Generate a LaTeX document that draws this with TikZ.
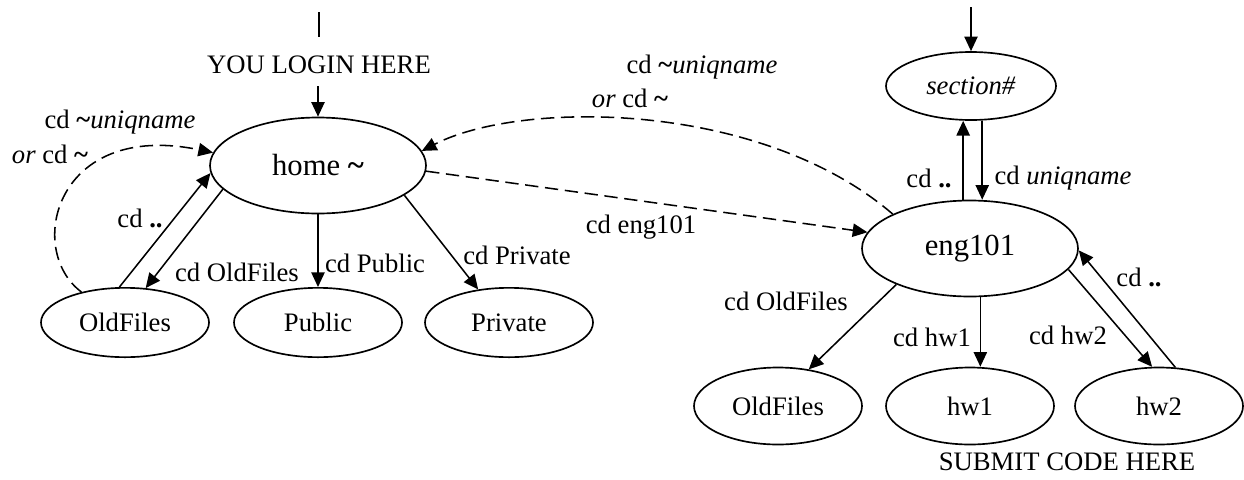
\documentclass[tikz,border=0pt]{standalone}
\usepackage{fontspec}
\setmainfont{Liberation Serif}
\usetikzlibrary{arrows.meta,shapes.geometric}
\begin{document}
\begin{tikzpicture}[x=0.75pt,y=-0.75pt,
  every node/.style={font=\fontsize{20}{24}\selectfont},
  lbl/.style={inner sep=0pt},
  big/.style={ellipse,draw,line width=1.25pt,inner sep=0pt,minimum width=162pt,minimum height=72pt,font=\fontsize{23}{27}\selectfont},
  small/.style={ellipse,draw,line width=1.25pt,inner sep=0pt,minimum width=126pt,minimum height=52pt},
  smallb/.style={small,minimum height=57.75pt},
  arr/.style={-{Triangle[length=11pt,width=10pt]},line width=1.15pt},
  dasharr/.style={arr,dash pattern=on 10pt off 5pt},
]
\useasboundingbox (0,0) rectangle (1244,479);
% nodes
\node[big] (home) at (318,165.5) {home \textbf{\textasciitilde}};
\node[small] (old1) at (125,322.5) {OldFiles};
\node[small] (pub) at (318,322.5) {Public};
\node[small] (priv) at (509,322.5) {Private};
\node[small,minimum width=127.5pt,minimum height=51pt] (sec) at (971,86) {\textit{section\#}};
\node[big] (eng) at (970,248.5) {eng101};
\node[smallb] (old2) at (778,406) {OldFiles};
\node[smallb] (hw1) at (970,406) {hw1};
\node[smallb] (hw2) at (1159,406) {hw2};
% top entries
\coordinate (t1) at (319,12);
\coordinate (t2) at (319,37);
\draw[line width=1.15pt] (t1) -- (t2);
\node[lbl] (login) at (319,65) {YOU LOGIN HERE};
\coordinate (a1) at (318,86);
\draw[arr] (a1) -- (home.north);
\coordinate (a2) at (971,7);
\draw[arr] (a2) -- (sec.north);
% home edges
\draw[arr] (home.194) -- (old1.59);
\draw[arr] (old1.99) -- (home.184);
\draw[arr] (home.south) -- (pub.north);
\draw[arr] (home.341) -- (priv.133);
\draw[dasharr] (old1.145) .. controls (25,250) and (55,120) .. (home.173);
\draw[dasharr] (eng.156) .. controls (760,100) and (520,100) .. (home.8);
\draw[dasharr] (home.357) -- (eng.171);
% eng edges
\draw[arr] (eng.98) -- (eng.98 |- sec.south);
\draw[arr] (sec.288) -- (sec.288 |- eng.north);
\draw[arr] (eng.282) -- (eng.282 |- hw1.north);
\draw[arr] (eng.206) -- (old2.50);
\draw[arr] (eng.348) -- (hw2.100);
\draw[arr] (hw2.67) -- (eng.359);
% labels
\node[lbl] (l1) at (120,122) {cd \textbf{\textasciitilde}\textit{uniqname}};
\node[lbl] (l2) at (50,154) {\textit{or} cd \textbf{\textasciitilde}};
\node[lbl] (l3) at (140,218) {cd \textbf{..}};
\node[lbl] (l4) at (237,272) {cd OldFiles};
\node[lbl] (l5) at (375,263) {cd Public};
\node[lbl] (l6) at (517,255) {cd Private};
\node[lbl] (l7) at (641,227) {cd eng101};
\node[lbl] (l8) at (702,67) {cd \textbf{\textasciitilde}\textit{uniqname}};
\node[lbl] (l9) at (630,98) {\textit{or} cd \textbf{\textasciitilde}};
\node[lbl] (l10) at (929,178) {cd \textbf{..}};
\node[lbl] (l11) at (1063,178) {cd \textit{uniqname}};
\node[lbl] (l12) at (786,301) {cd OldFiles};
\node[lbl] (l13) at (932,337) {cd hw1};
\node[lbl] (l14) at (1068,335) {cd hw2};
\node[lbl] (l15) at (1139,277) {cd \textbf{..}};
\node[lbl] (l16) at (1067,462) {SUBMIT CODE HERE};
\end{tikzpicture}
\end{document}
